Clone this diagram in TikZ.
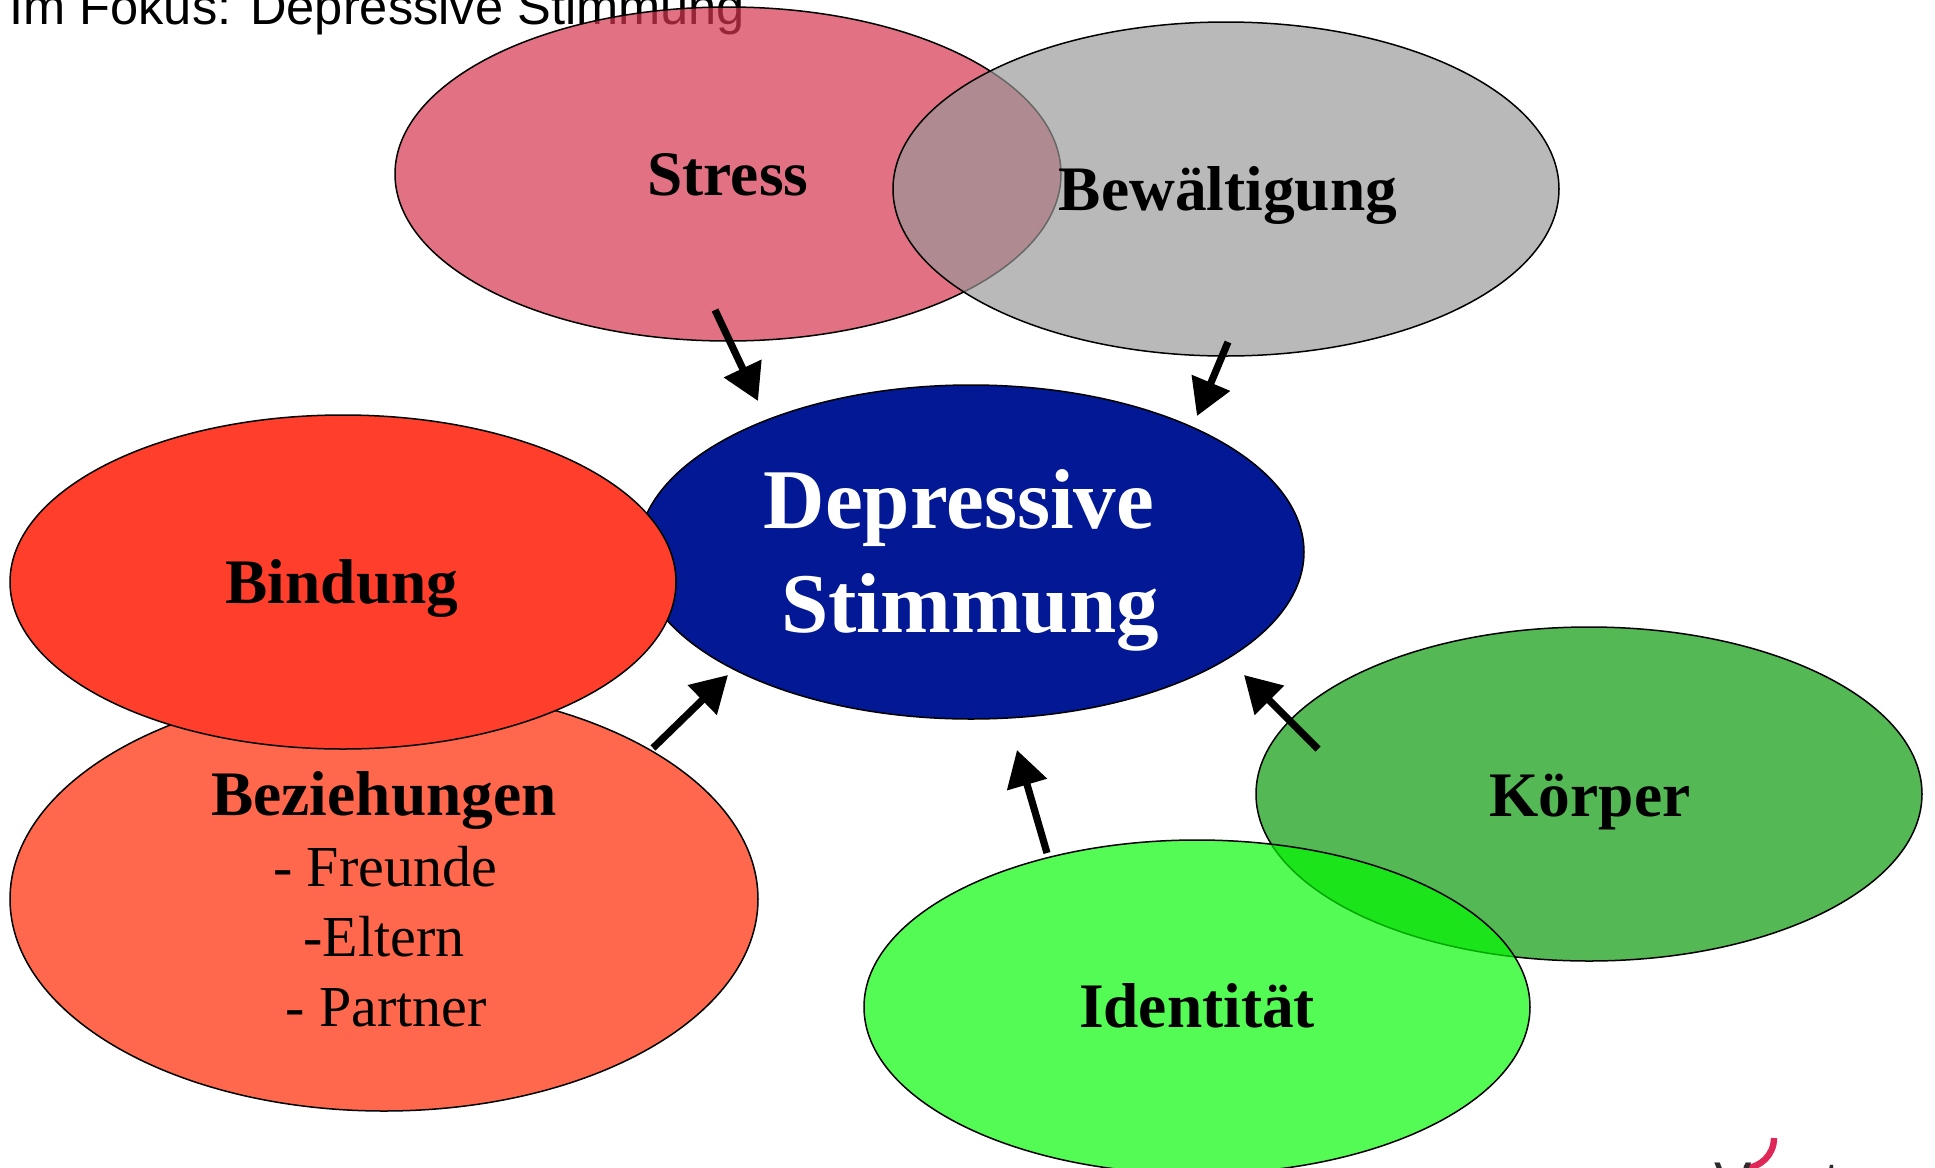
\documentclass[tikz,border=0pt]{standalone}
\usepackage{fontspec}
\setmainfont{Liberation Serif}
\newfontfamily\titlefont{Liberation Sans}
\usetikzlibrary{shapes.geometric,arrows.meta}
\definecolor{stresscol}{RGB}{214,55,79}
\definecolor{copecol}{RGB}{152,152,152}
\definecolor{depcol}{RGB}{2,24,148}
\definecolor{bindcol}{RGB}{255,62,43}
\definecolor{bezcol}{RGB}{255,104,77}
\definecolor{koercol}{RGB}{0,150,0}
\definecolor{identcol}{RGB}{0,250,0}
\definecolor{logored}{RGB}{222,40,88}
\definecolor{logogrey}{RGB}{45,45,45}
\begin{document}
\begin{tikzpicture}[x=0.5pt,y=-0.5pt,
  blob/.style={ellipse,draw=black,line width=0.75pt,inner sep=0pt,minimum width=333pt,minimum height=167pt},
  lbl/.style={anchor=base,inner sep=0pt,font=\bfseries\fontsize{31.7}{38}\selectfont},
  deplbl/.style={anchor=base,inner sep=0pt,text=white,font=\bfseries\fontsize{42.5}{51}\selectfont},
  item/.style={anchor=base,inner sep=0pt,font=\fontsize{29}{35}\selectfont},
  arr/.style={line width=3.6pt,-{Triangle[length=18pt,width=20pt]}}]
\fill[white] (0,0) rectangle (1935,1168);
\useasboundingbox (0,0) rectangle (1935,1168);
% title
\node[anchor=base west,inner sep=0pt,font=\titlefont\fontsize{25.3}{30}\selectfont] (title) at (9,24) {Im Fokus: Depressive Stimmung};
% ellipses
\node[blob,fill=stresscol,fill opacity=0.7] (stress) at (728,174) {};
\node[blob,fill=copecol,fill opacity=0.68] (cope) at (1226,189) {};
\node[blob,fill=depcol] (dep) at (971,552) {};
\node[blob,fill=bezcol,minimum width=374pt,minimum height=212pt] (bez) at (384,899) {};
\node[blob,fill=bindcol] (bind) at (343,582) {};
\node[blob,fill=koercol,fill opacity=0.67] (koer) at (1589,794) {};
\node[blob,fill=identcol,fill opacity=0.67] (ident) at (1197,1007) {};
% labels
\node[lbl] (tstress) at (728,195) {Stress};
\node[lbl] (tcope) at (1228,210) {Bewältigung};
\node[deplbl] (tdep1) at (959,528) {Depressive};
\node[deplbl] (tdep2) at (970,632) {Stimmung};
\node[lbl] (tbind) at (342,603) {Bindung};
\node[lbl] (tbez) at (384,815) {Beziehungen};
\node[item] (tb1) at (385,886) {- Freunde};
\node[item] (tb2) at (384,956) {-Eltern};
\node[item] (tb3) at (386,1026) {- Partner};
\node[lbl] (tkoer) at (1590,816) {Körper};
\node[lbl] (tident) at (1197,1027) {Identität};
% arrow end points
\coordinate (s0) at (715,310);  \coordinate (s1) at (758,401);
\coordinate (c0) at (1228,342); \coordinate (c1) at (1197,416);
\coordinate (b0) at (653,748);  \coordinate (b1) at (728,675);
\coordinate (k0) at (1318,749); \coordinate (k1) at (1244,675);
\coordinate (i0) at (1047,853); \coordinate (i1) at (1017,750);
\draw[arr] (s0) -- (s1);
\draw[arr] (c0) -- (c1);
\draw[arr] (b0) -- (b1);
\draw[arr] (k0) -- (k1);
\draw[arr] (i0) -- (i1);
% logo fragment
\coordinate (arc0) at (1774,1138);
\draw[logored,line width=3.2pt] (arc0) arc[start angle=0,end angle=-90,radius=15pt];
\node[anchor=base,inner sep=0pt,text=logogrey,font=\titlefont\fontsize{28}{30}\selectfont] (logoV) at (1733,1201) {V};
\node[anchor=base,inner sep=0pt,text=logogrey,font=\titlefont\fontsize{28}{30}\selectfont] (logoT) at (1832,1201) {t};
\end{tikzpicture}
\end{document}
